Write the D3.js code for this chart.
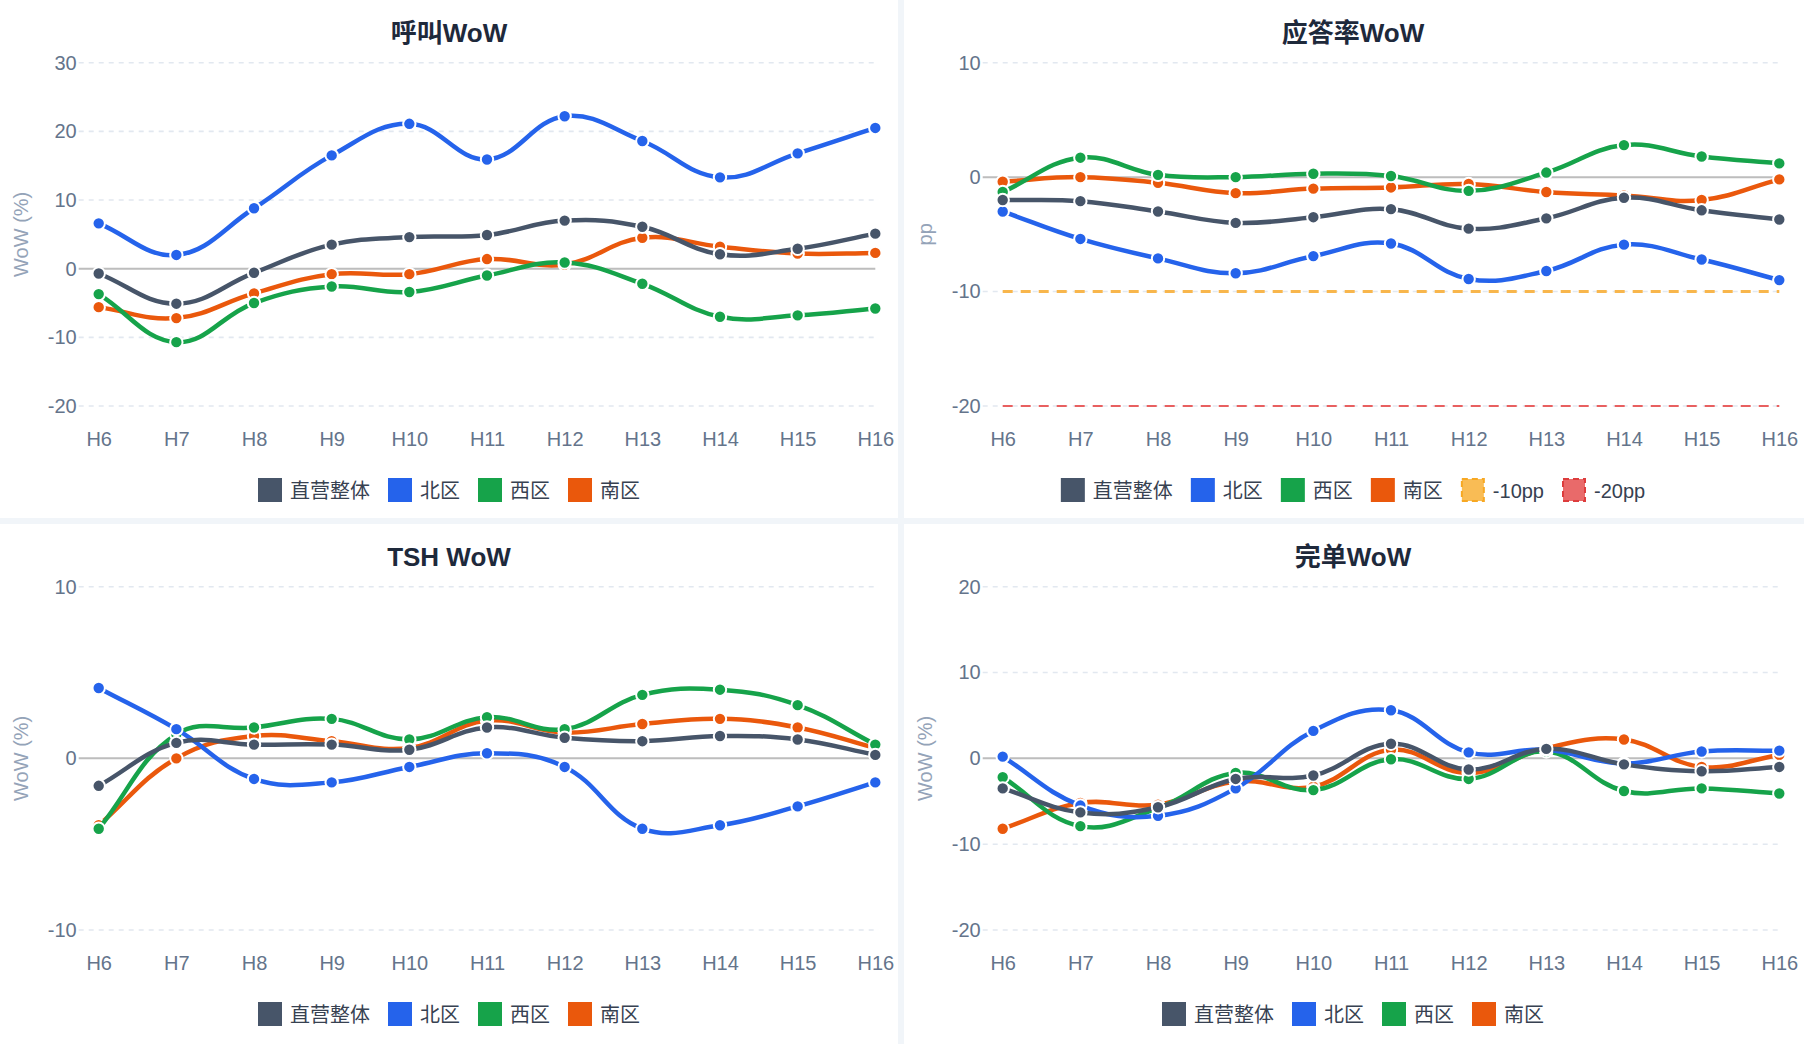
<!DOCTYPE html>
<html>
<head>
<meta charset="utf-8">
<script src="https://cdn.jsdelivr.net/npm/d3@7"></script>
<style>
  html, body { margin: 0; padding: 0; background: #f1f5f9; }
  svg { display: block; }
  text { font-family: "Liberation Sans", Arial, "Noto Sans CJK SC", sans-serif; }
</style>
</head>
<body>
<script>
// hours on the x axis
const hours = ['H6', 'H7', 'H8', 'H9', 'H10', 'H11', 'H12', 'H13', 'H14', 'H15', 'H16'];
const seriesNames = ['直营整体', '北区', '西区', '南区'];
const seriesColors = ['#475569', '#2563eb', '#16a34a', '#ea580c'];

// 呼叫WoW (%)
const callTotal = [-0.7, -5.1, -0.6, 3.5, 4.6, 4.9, 7.0, 6.1, 2.1, 2.9, 5.1];
const callNorth = [6.6, 2.0, 8.8, 16.5, 21.1, 15.9, 22.2, 18.6, 13.3, 16.8, 20.5];
const callWest = [-3.7, -10.7, -5.0, -2.6, -3.4, -1.0, 0.9, -2.2, -7.0, -6.8, -5.8];
const callSouth = [-5.6, -7.2, -3.6, -0.8, -0.8, 1.4, 0.6, 4.5, 3.2, 2.2, 2.3];

// 应答率WoW (pp)
const answerTotal = [-2.0, -2.1, -3.0, -4.0, -3.5, -2.8, -4.5, -3.6, -1.8, -2.9, -3.7];
const answerNorth = [-3.0, -5.4, -7.1, -8.4, -6.9, -5.8, -8.9, -8.2, -5.9, -7.2, -9.0];
const answerWest = [-1.3, 1.7, 0.2, 0.0, 0.3, 0.1, -1.2, 0.4, 2.8, 1.8, 1.2];
const answerSouth = [-0.4, 0.0, -0.5, -1.4, -1.0, -0.9, -0.6, -1.3, -1.6, -2.0, -0.2];

// TSH WoW (%)
const tshTotal = [-1.6, 0.9, 0.8, 0.8, 0.5, 1.8, 1.2, 1.0, 1.3, 1.1, 0.2];
const tshNorth = [4.1, 1.7, -1.2, -1.4, -0.5, 0.3, -0.5, -4.1, -3.9, -2.8, -1.4];
const tshWest = [-4.1, 1.4, 1.8, 2.3, 1.1, 2.4, 1.7, 3.7, 4.0, 3.1, 0.8];
const tshSouth = [-3.9, 0.0, 1.3, 1.0, 0.6, 2.2, 1.5, 2.0, 2.3, 1.8, 0.6];

// 完单WoW (%)
const doneTotal = [-3.5, -6.3, -5.7, -2.4, -2.0, 1.7, -1.3, 1.1, -0.7, -1.5, -1.0];
const doneNorth = [0.2, -5.5, -6.7, -3.5, 3.2, 5.6, 0.7, 1.0, -0.6, 0.8, 0.9];
const doneWest = [-2.2, -7.9, -5.8, -1.7, -3.7, -0.1, -2.4, 0.8, -3.8, -3.5, -4.1];
const doneSouth = [-8.2, -5.2, -5.4, -2.7, -3.3, 1.0, -1.7, 1.2, 2.2, -1.0, 0.4];

// threshold lines on the answer-rate chart
const thresholdNames = ['-10pp', '-20pp'];
const thresholdValues = [-10, -20];

const charts = [
  { title: '呼叫WoW', axisTitle: 'WoW (%)', domain: [-20, 30], ticks: [30, 20, 10, 0, -10, -20],
    series: [callTotal, callNorth, callWest, callSouth], px: 0, py: 0 },
  { title: '应答率WoW', axisTitle: 'pp', domain: [-20, 10], ticks: [10, 0, -10, -20],
    series: [answerTotal, answerNorth, answerWest, answerSouth], px: 904, py: 0, thresholds: true },
  { title: 'TSH WoW', axisTitle: 'WoW (%)', domain: [-10, 10], ticks: [10, 0, -10],
    series: [tshTotal, tshNorth, tshWest, tshSouth], px: 0, py: 524 },
  { title: '完单WoW', axisTitle: 'WoW (%)', domain: [-20, 20], ticks: [20, 10, 0, -10, -20],
    series: [doneTotal, doneNorth, doneWest, doneSouth], px: 904, py: 524 }
];

const W = 1804, H = 1044;
const panelW = 898, panelH = 518;
const plot = { left: 98.7, right: 875.3, top: 62.7, bottom: 406 };
const thresholdStyle = [
  { stroke: '#f8b64c', width: 3, dash: '10,8', fill: '#f9bc55', box: '#f7a823' },
  { stroke: '#e86060', width: 2, dash: '10,8', fill: '#e96a6a', box: '#dd3d3d' }
];

// cubic spline like chart.js (tension based, weighted by point distance)
function tensionCurve(t) {
  return function(context) {
    let pts;
    return {
      areaStart() {}, areaEnd() {},
      lineStart() { pts = []; },
      point(x, y) { pts.push([x, y]); },
      lineEnd() {
        const cps = pts.map((cur, i) => {
          const prev = pts[i - 1] || cur, next = pts[i + 1] || cur;
          const d01 = Math.hypot(cur[0] - prev[0], cur[1] - prev[1]);
          const d12 = Math.hypot(next[0] - cur[0], next[1] - cur[1]);
          let s01 = d01 / (d01 + d12), s12 = d12 / (d01 + d12);
          if (isNaN(s01)) s01 = 0;
          if (isNaN(s12)) s12 = 0;
          const fa = t * s01, fb = t * s12;
          return {
            inX: cur[0] - fa * (next[0] - prev[0]), inY: cur[1] - fa * (next[1] - prev[1]),
            outX: cur[0] + fb * (next[0] - prev[0]), outY: cur[1] + fb * (next[1] - prev[1])
          };
        });
        context.moveTo(pts[0][0], pts[0][1]);
        for (let i = 1; i < pts.length; i++) {
          context.bezierCurveTo(cps[i - 1].outX, cps[i - 1].outY, cps[i].inX, cps[i].inY, pts[i][0], pts[i][1]);
        }
      }
    };
  };
}

const svg = d3.select('body').append('svg')
  .attr('width', W)
  .attr('height', H);

svg.append('rect').attr('width', W).attr('height', H).attr('fill', '#f1f5f9');

charts.forEach(chart => {
  const g = svg.append('g').attr('transform', `translate(${chart.px},${chart.py})`);

  g.append('rect')
    .attr('width', chart.px > 0 ? W - chart.px : panelW)
    .attr('height', chart.py > 0 ? H - chart.py : panelH)
    .attr('fill', '#ffffff');

  const x = d3.scalePoint().domain(hours).range([plot.left, plot.right]);
  const y = d3.scaleLinear().domain(chart.domain).range([plot.bottom, plot.top]);

  // title
  g.append('text')
    .attr('x', panelW / 2)
    .attr('y', 42)
    .attr('text-anchor', 'middle')
    .style('font-size', '26px')
    .style('font-weight', '700')
    .style('fill', '#1e293b')
    .text(chart.title);

  // y grid + tick labels (plain hyphen for negatives)
  const yAxis = d3.axisLeft(y).tickValues(chart.ticks).tickSize(0).tickPadding(0)
    .tickFormat(d => String(d));
  const yg = g.append('g').attr('transform', `translate(${plot.left - 22},0)`).call(yAxis);
  yg.select('.domain').remove();
  yg.selectAll('text')
    .attr('x', 0)
    .style('font-size', '20px')
    .style('fill', '#64748b')
    .style('font-family', '"Liberation Sans", Arial, sans-serif');

  g.append('g').selectAll('line')
    .data(chart.ticks)
    .enter()
    .append('line')
    .attr('x1', plot.left - 20)
    .attr('x2', plot.right)
    .attr('y1', d => y(d))
    .attr('y2', d => y(d))
    .attr('stroke', d => d === 0 ? '#bdbdbd' : '#e2e8f0')
    .attr('stroke-width', d => d === 0 ? 2 : 1.6)
    .attr('stroke-dasharray', d => d === 0 ? null : '5,5');

  // x tick labels
  const xAxis = d3.axisBottom(x).tickSize(0).tickPadding(0);
  const xg = g.append('g').attr('transform', `translate(0,${plot.bottom + 40})`).call(xAxis);
  xg.select('.domain').remove();
  xg.selectAll('text')
    .attr('dy', 0)
    .style('font-size', '20px')
    .style('fill', '#64748b')
    .style('font-family', '"Liberation Sans", Arial, sans-serif');

  // axis title
  g.append('text')
    .attr('transform', `translate(28,${(plot.top + plot.bottom) / 2}) rotate(-90)`)
    .attr('text-anchor', 'middle')
    .style('font-size', '20px')
    .style('fill', '#94a3b8')
    .text(chart.axisTitle);

  // threshold lines (drawn behind the series)
  if (chart.thresholds) {
    thresholdValues.forEach((v, k) => {
      g.append('line')
        .attr('x1', x(hours[0]))
        .attr('x2', x(hours[hours.length - 1]))
        .attr('y1', y(v))
        .attr('y2', y(v))
        .attr('stroke', thresholdStyle[k].stroke)
        .attr('stroke-width', thresholdStyle[k].width)
        .attr('stroke-dasharray', thresholdStyle[k].dash);
    });
  }

  const line = d3.line()
    .x((d, i) => x(hours[i]))
    .y(d => y(d))
    .curve(tensionCurve(0.4));

  // first dataset ends up on top, like chart.js
  for (let s = chart.series.length - 1; s >= 0; s--) {
    const values = chart.series[s];
    g.append('path')
      .datum(values)
      .attr('d', line)
      .attr('fill', 'none')
      .attr('stroke', seriesColors[s])
      .attr('stroke-width', 4.5)
      .attr('stroke-linejoin', 'round');

    g.append('g').selectAll('circle')
      .data(values)
      .enter()
      .append('circle')
      .attr('cx', (d, i) => x(hours[i]))
      .attr('cy', d => y(d))
      .attr('r', 6.2)
      .attr('fill', seriesColors[s])
      .attr('stroke', '#ffffff')
      .attr('stroke-width', 2);
  }

  // legend
  const items = seriesNames.map((name, i) => ({ name, fill: seriesColors[i], stroke: seriesColors[i], dash: null }));
  if (chart.thresholds) {
    thresholdNames.forEach((name, k) => items.push({
      name, fill: thresholdStyle[k].fill, stroke: thresholdStyle[k].box, dash: '6,4'
    }));
  }
  const legend = g.append('g');
  const boxSize = 24, textGap = 8, itemGap = 18;
  let cursor = 0;
  items.forEach(item => {
    const it = legend.append('g').attr('transform', `translate(${cursor},0)`);
    it.append('rect')
      .attr('x', 1).attr('y', -11)
      .attr('width', boxSize - 2).attr('height', boxSize - 2)
      .attr('fill', item.fill)
      .attr('stroke', item.stroke)
      .attr('stroke-width', 2)
      .attr('stroke-dasharray', item.dash);
    const label = it.append('text')
      .attr('x', boxSize + textGap)
      .attr('y', 8)
      .style('font-size', '20px')
      .style('fill', '#374151')
      .text(item.name);
    cursor += boxSize + textGap + label.node().getComputedTextLength() + itemGap;
  });
  const legendW = cursor - itemGap;
  legend.attr('transform', `translate(${(panelW - legendW) / 2},${490})`);
});
</script>
</body>
</html>
